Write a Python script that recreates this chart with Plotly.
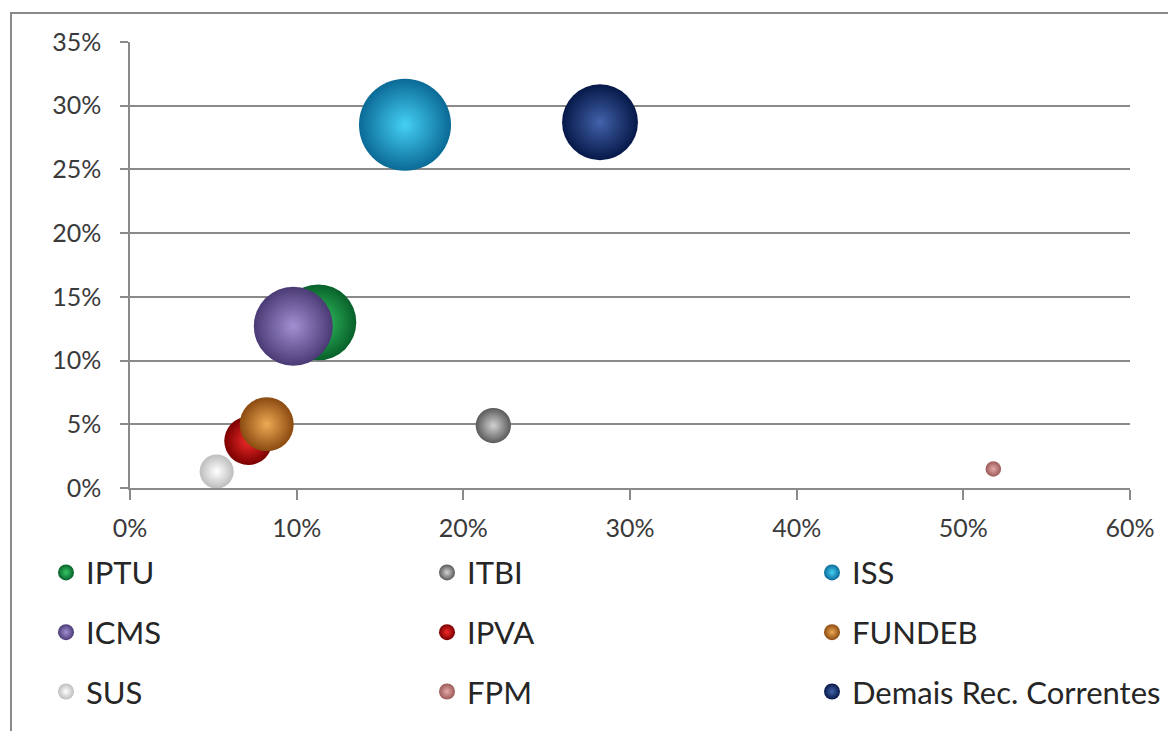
import plotly.graph_objects as go

# ---- data ----
series = ["IPTU", "ITBI", "ISS", "ICMS", "IPVA", "FUNDEB", "SUS", "FPM", "Demais Rec. Correntes"]
x_vals = [0.113, 0.218, 0.165, 0.098, 0.071, 0.082, 0.052, 0.518, 0.282]
y_vals = [0.130, 0.049, 0.285, 0.127, 0.037, 0.050, 0.013, 0.015, 0.287]
bubble_size = [14.4, 3.1, 21.2, 15.6, 5.8, 7.3, 2.9, 0.6, 14.4]

# styles: edge colour and centre colour of each sphere
edge_colors = ["#08602a", "#5a5a5a", "#0a6a96", "#4a3a74", "#7a0000", "#8a4a10", "#bdbdbd", "#9a5a58", "#061848"]
light_colors = ["#35c865", "#d2d2d2", "#45d0f5", "#a290d2", "#f22a2a", "#eeaa55", "#ffffff", "#e6a8a6", "#4262aa"]

FONT = "Lato"
TXT = "#3a3a3a"
GRID = "#8a8a8a"

# legend grid placement (paper coords): 3 columns x 3 rows
col_x = [-0.084, 0.297, 0.682]
row_y = [-0.19, -0.324, -0.457]

fig = go.Figure()
for i, name in enumerate(series):
    fig.add_trace(go.Scatter(
        x=[x_vals[i]], y=[y_vals[i]], name=name, mode="markers",
        legendgroup=name, showlegend=False,
        marker=dict(
            size=[bubble_size[i]], sizemode="area", sizeref=0.005,
            color=edge_colors[i],
            gradient=dict(type="radial", color=light_colors[i]),
            line=dict(width=0), opacity=1,
        ),
        hoverinfo="name+x+y",
    ))

layout_legends = {}
for i, name in enumerate(series):
    key = "legend" if i == 0 else f"legend{i + 1}"
    # legend-only proxy so that every entry shows a sphere of equal size
    fig.add_trace(go.Scatter(
        x=[None], y=[None], name=name, mode="markers",
        legendgroup=name, legend=key, showlegend=True,
        marker=dict(
            size=20, color=edge_colors[i],
            gradient=dict(type="radial", color=light_colors[i]),
            line=dict(width=0), opacity=1,
        ),
    ))
    layout_legends[key] = dict(
        orientation="h", xanchor="left", yanchor="middle",
        x=col_x[i % 3], y=row_y[i // 3],
        font=dict(family=FONT, size=31, color="#262626"),
        bgcolor="rgba(0,0,0,0)", borderwidth=0, itemsizing="trace",
    )

fig.update_layout(
    width=1168, height=731,
    margin=dict(l=130, r=38, t=42, b=243, autoexpand=False),
    paper_bgcolor="white", plot_bgcolor="white",
    font=dict(family=FONT, size=25, color=TXT),
    showlegend=True,
    **layout_legends,
    xaxis=dict(
        range=[0, 0.6], dtick=0.1, tickformat=".0%",
        showgrid=False, zeroline=False,
        showline=True, linecolor=GRID, linewidth=1.5,
        ticks="outside", ticklen=10, tickwidth=1.5, tickcolor=GRID,
        ticklabelstandoff=7,
        tickfont=dict(family=FONT, size=25, color=TXT),
    ),
    yaxis=dict(
        range=[0, 0.35], dtick=0.05, tickformat=".0%",
        showgrid=True, gridcolor=GRID, gridwidth=1.5, zeroline=False,
        showline=True, linecolor=GRID, linewidth=1.5,
        ticks="outside", ticklen=8, tickwidth=1.5, tickcolor=GRID,
        ticklabelstandoff=14,
        tickfont=dict(family=FONT, size=25, color=TXT),
    ),
    shapes=[dict(
        type="rect", xref="paper", yref="paper",
        x0=-0.119, x1=1.1, y0=-0.7, y1=1.065,
        line=dict(color="#8a8a8a", width=2), fillcolor="rgba(0,0,0,0)",
        layer="below",
    )],
)

fig.write_html("out.html")
